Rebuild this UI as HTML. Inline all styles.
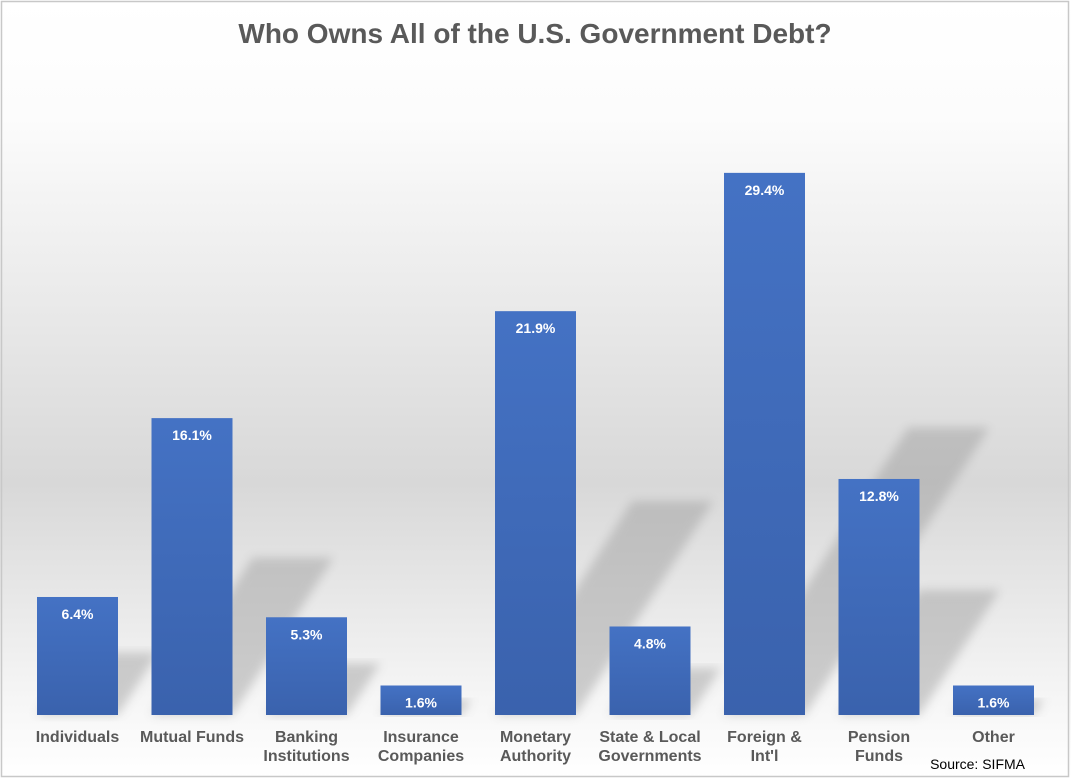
<!DOCTYPE html>
<html><head><meta charset="utf-8"><style>
body{margin:0;background:#fff}
svg{display:block;font-family:"Liberation Sans",Arial,sans-serif}
</style></head><body>
<svg width="1071" height="779" viewBox="0 0 1071 779">
<defs>
<linearGradient id="bg" x1="0" y1="0" x2="0" y2="1">
<stop offset="0" stop-color="#ffffff"/><stop offset="0.15" stop-color="#fcfcfc"/>
<stop offset="0.62" stop-color="#d8d8d8"/><stop offset="0.9" stop-color="#f6f6f6"/><stop offset="1" stop-color="#ffffff"/>
</linearGradient>
<linearGradient id="bar" x1="0" y1="0" x2="0" y2="1">
<stop offset="0" stop-color="#4472c4"/><stop offset="1" stop-color="#3a62ad"/>
</linearGradient>
<filter id="blur"><feGaussianBlur stdDeviation="5"/></filter>
</defs>
<rect x="0" y="0" width="1071" height="779" fill="url(#bg)"/>
<rect x="1.5" y="1.5" width="1067" height="775" fill="none" stroke="#c8c8c8" stroke-width="1.5"/>
<text x="535" y="43" text-anchor="middle" font-size="28" font-weight="bold" fill="#595959">Who Owns All of the U.S. Government Debt?</text>
<g id="shadows"></g>
<g id="bars"></g>
<g id="labels"></g>
<text x="1025" y="769" text-anchor="end" font-size="14" fill="#000">Source: SIFMA</text>
</svg>
<script>
const categories = [["Individuals"],["Mutual Funds"],["Banking","Institutions"],["Insurance","Companies"],["Monetary","Authority"],["State & Local","Governments"],["Foreign &","Int'l"],["Pension","Funds"],["Other"]];
const values = [6.4,16.1,5.3,1.6,21.9,4.8,29.4,12.8,1.6];
const valueLabels = ["6.4%","16.1%","5.3%","1.6%","21.9%","4.8%","29.4%","12.8%","1.6%"];
const NS="http://www.w3.org/2000/svg";
const base=715, pxPer=18.44, x0=77.5, step=114.5, bw=81;
const xC=i=>x0+i*step;
const yV=v=>base-v*pxPer;
const sh=document.getElementById('shadows'), bg=document.getElementById('bars'), lg=document.getElementById('labels');
values.forEach((v,i)=>{
  const l=xC(i)-bw/2, r=l+bw, t=yV(v), h=base-t;
  const p=document.createElementNS(NS,'polygon');
  p.setAttribute('points',`${l},${base} ${r},${base} ${r+h*0.34},${base-h*0.53} ${l+h*0.34},${base-h*0.53}`);
  p.setAttribute('fill','#9a9a9a');p.setAttribute('opacity','0.45');p.setAttribute('filter','url(#blur)');
  
  
  sh.appendChild(p);
  const b=document.createElementNS(NS,'rect');
  b.setAttribute('x',l);b.setAttribute('y',t);b.setAttribute('width',bw);b.setAttribute('height',h);b.setAttribute('fill','url(#bar)');
  
  
  bg.appendChild(b);
  const vt=document.createElementNS(NS,'text');
  vt.setAttribute('x',xC(i));vt.setAttribute('y',t+22);vt.setAttribute('text-anchor','middle');
  vt.setAttribute('font-size','14');vt.setAttribute('font-weight','bold');vt.setAttribute('fill','#fff');
  vt.textContent=valueLabels[i];
  
  
  lg.appendChild(vt);
  categories[i].forEach((line,j)=>{
    const ct=document.createElementNS(NS,'text');
    ct.setAttribute('x',xC(i));ct.setAttribute('y',742+j*19);ct.setAttribute('text-anchor','middle');
    ct.setAttribute('font-size','16');ct.setAttribute('font-weight','bold');ct.setAttribute('fill','#595959');
    ct.textContent=line;
    
    
    lg.appendChild(ct);
  });
});
</script>
</body></html>
